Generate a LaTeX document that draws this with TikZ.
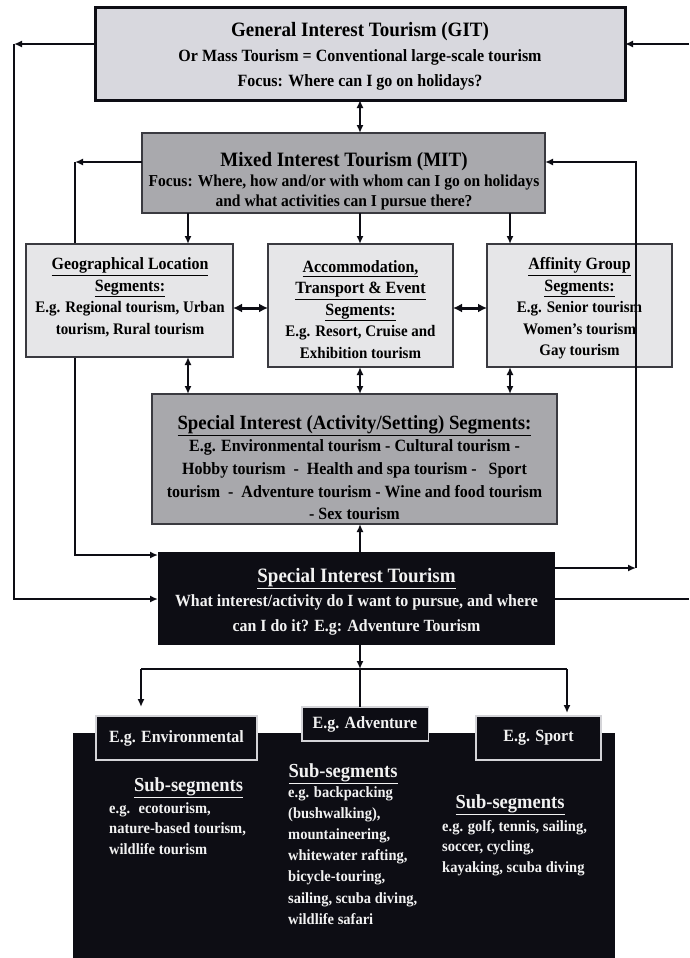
\documentclass[tikz,border=0pt]{standalone}
\usepackage{fontspec}
\setmainfont{Liberation Serif}[FakeStretch=0.93]
\usetikzlibrary{arrows.meta}
\definecolor{gitfill}{HTML}{D8D8DE}
\definecolor{mitfill}{HTML}{A9A9AD}
\definecolor{segfill}{HTML}{E6E6E8}
\definecolor{sifill}{HTML}{A8A8AC}
\definecolor{ink}{HTML}{0D0D14}
\definecolor{edge}{HTML}{3A3A40}
\definecolor{wtxt}{HTML}{F2F2F2}
\definecolor{wedge}{HTML}{D4D4D8}
\tikzset{
 >={Latex[length=8pt,width=7pt]},
 conn/.style={line width=2pt, draw=ink},
 fatconn/.style={line width=3pt, draw=ink, >={Latex[length=9pt,width=9pt]}},
 boxshape/.style={rectangle, inner sep=0pt, outer sep=0pt},
 greybox/.style={boxshape, draw=edge, line width=1.5pt},
 blackbox/.style={boxshape, fill=ink, draw=wedge, line width=1.5pt},
 txt/.style={inner sep=0pt, align=center},
 ltxt/.style={inner sep=0pt, align=left, anchor=north west},
}
\newcommand{\bodyf}{\bfseries\fontsize{16.1}{21.5}\selectfont}
\newcommand{\headf}[1]{{\fontsize{17.2}{17.2}\selectfont\underline{#1}}}
\begin{document}
\begin{tikzpicture}[x=1pt,y=-1pt]
\fill[white] (0,0) rectangle (689,958);
\useasboundingbox (0,0) rectangle (689,958);

% helper coordinates
\coordinate (cx) at (360,0);
\coordinate (g1) at (188,0);
\coordinate (f1) at (510,0);
\coordinate (hy) at (0,308);
\coordinate (oLt) at (14,44);
\coordinate (oLb) at (14,599);
\coordinate (oRt) at (689,44);
\coordinate (oRb) at (689,599);
\coordinate (iLt) at (75,162);
\coordinate (iLb) at (75,555);
\coordinate (iRt) at (636,162);
\coordinate (iRb) at (636,568);
\coordinate (jn) at (360,669);
\coordinate (bl) at (141,669);
\coordinate (br) at (567,669);

% main boxes
\node[boxshape, fill=gitfill, draw=ink, line width=3pt, minimum width=530, minimum height=92] (git) at (360,54) {};
\node[greybox, fill=mitfill, minimum width=403, minimum height=80] (mit) at (343.5,173) {};
\node[greybox, fill=sifill, minimum width=405, minimum height=130] (si) at (354.5,459) {};
\node[boxshape, fill=ink, minimum width=397, minimum height=93] (sit) at (356.5,598.5) {};

% left inner loop (behind geo box)
\draw[conn,->] (iLt -| mit.west) -- (iLt);
\draw[conn,->] (iLt) -- (iLb) -- (iLb -| sit.west);

% segment boxes
\node[greybox, fill=segfill, minimum width=207, minimum height=113] (geo) at (129.5,300.5) {};
\node[greybox, fill=segfill, minimum width=185, minimum height=123] (acc) at (360.5,305.5) {};
\node[greybox, fill=segfill, minimum width=185, minimum height=123] (aff) at (579.5,305.5) {};

% bottom panel and example boxes
\node[boxshape, fill=ink, minimum width=542, minimum height=226] (panel) at (344,846) {};
\node[blackbox, minimum width=161, minimum height=44] (env) at (176.5,738) {};
\node[blackbox, minimum width=126.5, minimum height=34] (adv) at (365,724) {};
\node[blackbox, minimum width=125, minimum height=44] (spt) at (538.5,738) {};

% texts
\node[txt, font={\bfseries\fontsize{17.2}{25}\selectfont}] (gitT) at (360,56)
 {{\fontsize{20.4}{20.4}\selectfont General Interest Tourism (GIT)}\\
  Or Mass Tourism = Conventional large-scale tourism\\
  Focus: Where can I go on holidays?};
\node[txt, font={\bfseries\fontsize{16.7}{20}\selectfont}] (mitT) at (344,181)
 {{\fontsize{20.4}{20.4}\selectfont Mixed Interest Tourism (MIT)}\\
  Focus: Where, how and/or with whom can I go on holidays\\
  and what activities can I pursue there?};
\node[txt, font=\bodyf] (geoT) at (130,297.5)
 {\headf{Geographical Location}\\ \headf{Segments:}\\ E.g. Regional tourism, Urban\\ tourism, Rural tourism};
\node[txt, font=\bodyf] (accT) at (360.5,309.5)
 {\headf{Accommodation,}\\ \headf{Transport \& Event}\\ \headf{Segments:}\\ E.g. Resort, Cruise and\\ Exhibition tourism};
\node[txt, font=\bodyf] (affT) at (579.5,308.5)
 {\headf{Affinity Group}\\ \headf{Segments:}\\ E.g. Senior tourism\\ Women’s tourism\\ Gay tourism};
\node[txt, font={\bfseries\fontsize{17.2}{22.7}\selectfont}] (siT) at (354.5,467.5)
 {{\fontsize{20.2}{20.2}\selectfont\underline{Special Interest (Activity/Setting) Segments:}}\\
  E.g. Environmental tourism - Cultural tourism -\\
  Hobby tourism \ - \ Health and spa tourism - \ \ Sport\\
  tourism \ - \ Adventure tourism - Wine and food tourism\\
  - Sex tourism};
\node[txt, text=wtxt, font={\bfseries\fontsize{17.1}{24.5}\selectfont}] (sitT) at (356.5,601.5)
 {{\fontsize{20.4}{20.4}\selectfont\underline{Special Interest Tourism}}\\
  What interest/activity do I want to pursue, and where\\
  can I do it? E.g: Adventure Tourism};

\node[txt, text=wtxt, font={\bfseries\fontsize{17.2}{17.2}\selectfont}] (envT) at (env.center) {E.g. Environmental};
\node[txt, text=wtxt, font={\bfseries\fontsize{17.2}{17.2}\selectfont}] (advT) at (adv.center) {E.g. Adventure};
\node[txt, text=wtxt, font={\bfseries\fontsize{17.2}{17.2}\selectfont}] (sptT) at (spt.center) {E.g. Sport};

\node[txt, text=wtxt, font={\bfseries\fontsize{19.9}{19.9}\selectfont}] (sub1) at (188.5,788) {\underline{Sub-segments}};
\node[txt, text=wtxt, font={\bfseries\fontsize{19.9}{19.9}\selectfont}] (sub2) at (343,774) {\underline{Sub-segments}};
\node[txt, text=wtxt, font={\bfseries\fontsize{19.9}{19.9}\selectfont}] (sub3) at (510,805) {\underline{Sub-segments}};

\node[ltxt, text=wtxt, font={\bfseries\fontsize{15.6}{20.5}\selectfont}] (l1) at (109,802)
 {e.g. \ ecotourism,\\ nature-based tourism,\\ wildlife tourism};
\node[ltxt, text=wtxt, font={\bfseries\fontsize{15.6}{21.2}\selectfont}] (l2) at (288,786)
 {e.g. backpacking\\ (bushwalking),\\ mountaineering,\\ whitewater rafting,\\ bicycle-touring,\\ sailing, scuba diving,\\ wildlife safari};
\node[ltxt, text=wtxt, font={\bfseries\fontsize{15.6}{20.5}\selectfont}] (l3) at (442,820)
 {e.g. golf, tennis, sailing,\\ soccer, cycling,\\ kayaking, scuba diving};

% connectors
\draw[conn,->] (oLt -| git.west) -- (oLt);
\draw[conn,->] (oLt) -- (oLb) -- (oLb -| sit.west);
\draw[conn,->] (oRt) -- (oRt -| git.east);
\draw[conn] (sit.east |- oRb) -- (oRb);
\draw[conn,<->] (git.south -| cx) -- (mit.north -| cx);
\draw[conn,->] (mit.south -| g1) -- (geo.north -| g1);
\draw[conn,->] (mit.south -| cx) -- (acc.north -| cx);
\draw[conn,->] (mit.south -| f1) -- (aff.north -| f1);
\draw[fatconn,<->] (geo.east |- hy) -- (acc.west |- hy);
\draw[fatconn,<->] (acc.east |- hy) -- (aff.west |- hy);
\draw[conn,<->] (geo.south -| g1) -- (si.north -| g1);
\draw[conn,<->] (acc.south -| cx) -- (si.north -| cx);
\draw[conn,<->] (aff.south -| f1) -- (si.north -| f1);
\draw[conn,->] (sit.north -| cx) -- (si.south -| cx);
\draw[conn,->] (sit.east |- iRb) -- (iRb);
\draw[conn,->] (iRb) -- (iRt) -- (iRt -| mit.east);
\draw[conn,->] (sit.south -| jn) -- (jn);
\draw[conn] (bl) -- (br);
\draw[conn,->, shorten >=9pt] (bl) -- (bl |- env.north);
\draw[conn,->, shorten >=3pt] (br) -- (br |- spt.north);
\draw[conn] (jn) -- (adv.north -| jn);
\end{tikzpicture}
\end{document}
